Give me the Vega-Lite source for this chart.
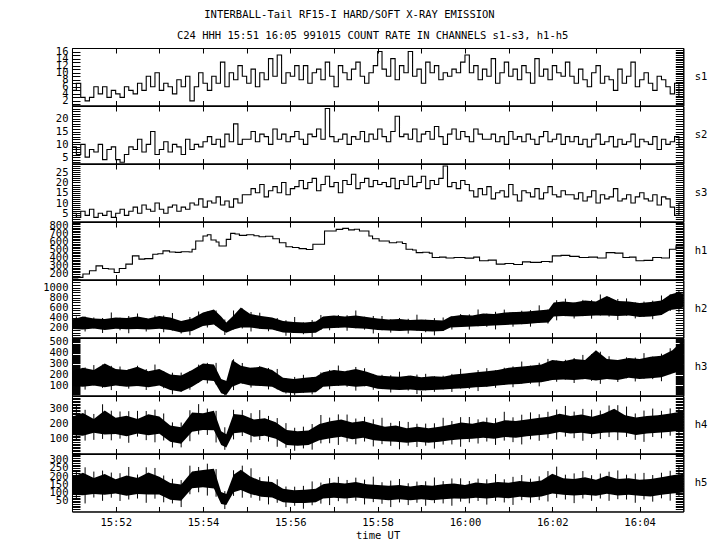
{
"$schema":"https://vega.github.io/schema/vega-lite/v6.json",
"background":"white",
"padding":{"left":41,"top":10,"right":5,"bottom":5},
"title":{"text":"INTERBALL-Tail RF15-I HARD/SOFT X-RAY EMISSION","anchor":"middle","dx":-25,"offset":10},
"config":{
 "view":{"stroke":"black","strokeWidth":1},
 "title":{"font":"DejaVu Sans Mono","fontSize":10.5,"fontWeight":"normal","color":"black"},
 "axis":{"grid":false,"domainColor":"black","tickColor":"black","labelColor":"black","titleColor":"black","labelFont":"DejaVu Sans Mono","titleFont":"DejaVu Sans Mono","labelFontSize":10.5,"titleFontSize":10.5,"titleFontWeight":"normal","labelOverlap":false,"domainWidth":1,"tickWidth":1},
 "axisBottom":{"tickSize":-5,"labelPadding":11,"titlePadding":3},
 "axisTop":{"tickSize":-5,"labels":false},
 "axisLeft":{"tickSize":-8,"labelPadding":12,"minExtent":30,"maxExtent":30},
 "axisRight":{"tickSize":-8,"labels":false,"titleAngle":0,"titleAlign":"left","titleBaseline":"middle","titlePadding":11,"minExtent":0,"maxExtent":0}
},
"datasets":{
"s":[
{"t":0,"a":5,"b":9,"c":5},{"t":6,"a":7,"b":6,"c":3},{"t":12,"a":3,"b":10,"c":6},{"t":18,"a":2,"b":5,"c":4},{"t":24,"a":3,"b":8,"c":7},{"t":30,"a":6,"b":7,"c":3},{"t":36,"a":4,"b":10,"c":5},{"t":42,"a":6,"b":4,"c":4},{"t":48,"a":3,"b":8,"c":6},{"t":54,"a":5,"b":9,"c":3},
{"t":60,"a":4,"b":4,"c":5},{"t":66,"a":3,"b":3,"c":7},{"t":72,"a":6,"b":6,"c":4},{"t":78,"a":5,"b":9,"c":6},{"t":84,"a":4,"b":8,"c":8},{"t":90,"a":7,"b":12,"c":5},{"t":96,"a":5,"b":7,"c":9},{"t":102,"a":9,"b":10,"c":7},{"t":108,"a":6,"b":15,"c":6},{"t":114,"a":10,"b":6,"c":10},
{"t":120,"a":5,"b":8,"c":7},{"t":126,"a":7,"b":11,"c":5},{"t":132,"a":6,"b":7,"c":8},{"t":138,"a":4,"b":10,"c":9},{"t":144,"a":8,"b":9,"c":6},{"t":150,"a":6,"b":6,"c":8},{"t":156,"a":9,"b":12,"c":7},{"t":162,"a":2,"b":8,"c":10},{"t":168,"a":6,"b":10,"c":9},{"t":174,"a":10,"b":9,"c":12},
{"t":180,"a":7,"b":11,"c":8},{"t":186,"a":5,"b":13,"c":11},{"t":192,"a":9,"b":10,"c":10},{"t":198,"a":7,"b":12,"c":13},{"t":204,"a":13,"b":9,"c":9},{"t":210,"a":6,"b":14,"c":11},{"t":216,"a":10,"b":11,"c":8},{"t":222,"a":8,"b":18,"c":12},{"t":228,"a":12,"b":10,"c":10},{"t":234,"a":9,"b":12,"c":14},
{"t":240,"a":7,"b":12,"c":14},{"t":246,"a":11,"b":15,"c":17},{"t":252,"a":6,"b":11,"c":15},{"t":258,"a":10,"b":14,"c":19},{"t":264,"a":8,"b":13,"c":13},{"t":270,"a":14,"b":10,"c":16},{"t":276,"a":9,"b":16,"c":18},{"t":282,"a":15,"b":12,"c":15},{"t":288,"a":7,"b":14,"c":20},{"t":294,"a":10,"b":11,"c":14},
{"t":300,"a":9,"b":13,"c":17},{"t":306,"a":12,"b":15,"c":18},{"t":312,"a":8,"b":12,"c":21},{"t":318,"a":12,"b":10,"c":17},{"t":324,"a":7,"b":14,"c":20},{"t":330,"a":10,"b":13,"c":22},{"t":336,"a":11,"b":16,"c":16},{"t":342,"a":8,"b":12,"c":19},{"t":348,"a":13,"b":24,"c":23},{"t":354,"a":9,"b":13,"c":18},
{"t":360,"a":6,"b":11,"c":20},{"t":366,"a":12,"b":12,"c":15},{"t":372,"a":10,"b":14,"c":21},{"t":378,"a":8,"b":10,"c":19},{"t":384,"a":11,"b":13,"c":24},{"t":390,"a":13,"b":12,"c":17},{"t":396,"a":9,"b":15,"c":20},{"t":402,"a":7,"b":11,"c":22},{"t":408,"a":10,"b":14,"c":18},{"t":414,"a":12,"b":12,"c":21},
{"t":420,"a":16,"b":16,"c":19},{"t":426,"a":11,"b":13,"c":20},{"t":432,"a":9,"b":11,"c":18},{"t":438,"a":14,"b":15,"c":22},{"t":444,"a":8,"b":21,"c":17},{"t":450,"a":12,"b":13,"c":21},{"t":456,"a":10,"b":14,"c":19},{"t":462,"a":16,"b":12,"c":23},{"t":468,"a":9,"b":16,"c":18},{"t":474,"a":11,"b":11,"c":20},
{"t":480,"a":7,"b":14,"c":23},{"t":486,"a":13,"b":15,"c":17},{"t":492,"a":10,"b":12,"c":21},{"t":498,"a":12,"b":17,"c":19},{"t":504,"a":8,"b":13,"c":22},{"t":510,"a":10,"b":10,"c":28},{"t":516,"a":9,"b":14,"c":18},{"t":522,"a":11,"b":16,"c":20},{"t":528,"a":10,"b":12,"c":17},{"t":534,"a":13,"b":15,"c":21},
{"t":540,"a":15,"b":13,"c":19},{"t":546,"a":10,"b":11,"c":16},{"t":552,"a":12,"b":16,"c":13},{"t":558,"a":8,"b":14,"c":17},{"t":564,"a":11,"b":12,"c":14},{"t":570,"a":9,"b":12,"c":18},{"t":576,"a":14,"b":14,"c":12},{"t":582,"a":7,"b":11,"c":15},{"t":588,"a":10,"b":13,"c":16},{"t":594,"a":13,"b":10,"c":13},
{"t":600,"a":9,"b":15,"c":19},{"t":606,"a":11,"b":12,"c":14},{"t":612,"a":8,"b":13,"c":11},{"t":618,"a":12,"b":11,"c":16},{"t":624,"a":10,"b":14,"c":15},{"t":630,"a":7,"b":12,"c":13},{"t":636,"a":14,"b":10,"c":17},{"t":642,"a":9,"b":13,"c":12},{"t":648,"a":11,"b":15,"c":15},{"t":654,"a":8,"b":11,"c":18},
{"t":660,"a":12,"b":12,"c":14},{"t":666,"a":10,"b":14,"c":13},{"t":672,"a":9,"b":10,"c":16},{"t":678,"a":13,"b":13,"c":14},{"t":684,"a":9,"b":11,"c":14},{"t":690,"a":7,"b":13,"c":12},{"t":696,"a":11,"b":10,"c":15},{"t":702,"a":8,"b":12,"c":11},{"t":708,"a":6,"b":9,"c":13},{"t":714,"a":10,"b":12,"c":16},
{"t":720,"a":12,"b":14,"c":10},{"t":726,"a":7,"b":10,"c":14},{"t":732,"a":9,"b":11,"c":12},{"t":738,"a":8,"b":13,"c":13},{"t":744,"a":5,"b":9,"c":17},{"t":750,"a":11,"b":12,"c":11},{"t":756,"a":7,"b":10,"c":12},{"t":762,"a":9,"b":11,"c":14},{"t":768,"a":13,"b":14,"c":10},{"t":774,"a":6,"b":9,"c":13},
{"t":780,"a":8,"b":12,"c":15},{"t":786,"a":10,"b":11,"c":12},{"t":792,"a":7,"b":10,"c":11},{"t":798,"a":5,"b":13,"c":14},{"t":804,"a":9,"b":8,"c":9},{"t":810,"a":8,"b":12,"c":13},{"t":816,"a":6,"b":10,"c":12},{"t":822,"a":4,"b":11,"c":8},{"t":828,"a":7,"b":13,"c":4},{"t":834,"a":3,"b":9,"c":10},
{"t":840,"a":3,"b":9,"c":10}
],
"h1":[
{"t":0,"v":150},{"t":8,"v":156},{"t":15,"v":198},{"t":24,"v":239},{"t":33,"v":301},{"t":42,"v":268},{"t":50,"v":262},{"t":58,"v":218},{"t":65,"v":268},{"t":74,"v":323},{"t":83,"v":426},{"t":92,"v":385},{"t":100,"v":392},{"t":111,"v":447},{"t":118,"v":452},{"t":125,"v":488},{"t":134,"v":475},{"t":142,"v":470},{"t":150,"v":478},{"t":161,"v":475},{"t":165,"v":509},{"t":170,"v":612},{"t":180,"v":675},{"t":186,"v":690},{"t":191,"v":625},{"t":198,"v":600},{"t":202,"v":550},{"t":212,"v":633},{"t":218,"v":708},{"t":224,"v":700},{"t":230,"v":683},{"t":240,"v":690},{"t":250,"v":678},{"t":257,"v":666},{"t":266,"v":672},{"t":276,"v":641},{"t":285,"v":591},{"t":294,"v":541},{"t":303,"v":530},{"t":312,"v":516},{"t":322,"v":505},{"t":331,"v":571},{"t":347,"v":737},{"t":363,"v":758},{"t":372,"v":770},{"t":380,"v":752},{"t":388,"v":760},{"t":395,"v":737},{"t":408,"v":675},{"t":413,"v":641},{"t":422,"v":612},{"t":436,"v":591},{"t":446,"v":600},{"t":454,"v":580},{"t":459,"v":509},{"t":468,"v":500},{"t":473,"v":467},{"t":482,"v":472},{"t":491,"v":460},{"t":495,"v":405},{"t":505,"v":410},{"t":514,"v":400},{"t":525,"v":405},{"t":540,"v":398},{"t":552,"v":410},{"t":560,"v":364},{"t":572,"v":372},{"t":583,"v":323},{"t":595,"v":330},{"t":607,"v":318},{"t":619,"v":351},{"t":630,"v":345},{"t":645,"v":356},{"t":656,"v":351},{"t":660,"v":426},{"t":672,"v":432},{"t":684,"v":420},{"t":697,"v":405},{"t":710,"v":410},{"t":722,"v":400},{"t":734,"v":467},{"t":746,"v":460},{"t":757,"v":405},{"t":766,"v":410},{"t":775,"v":364},{"t":786,"v":370},{"t":798,"v":405},{"t":810,"v":400},{"t":821,"v":509},{"t":830,"v":550},{"t":840,"v":550}
],
"h2":[
{"t":0,"lo":170,"hi":360},{"t":15,"lo":160,"hi":420},{"t":30,"lo":180,"hi":380},{"t":45,"lo":150,"hi":370},{"t":60,"lo":175,"hi":400},{"t":75,"lo":165,"hi":390},{"t":90,"lo":170,"hi":420},{"t":105,"lo":160,"hi":380},{"t":120,"lo":175,"hi":430},{"t":135,"lo":150,"hi":400},{"t":150,"lo":100,"hi":330},{"t":165,"lo":130,"hi":380},{"t":180,"lo":230,"hi":500},{"t":195,"lo":260,"hi":560},{"t":205,"lo":150,"hi":420},{"t":212,"lo":95,"hi":300},{"t":222,"lo":160,"hi":440},{"t":232,"lo":200,"hi":600},{"t":245,"lo":200,"hi":470},{"t":260,"lo":170,"hi":430},{"t":275,"lo":160,"hi":400},{"t":290,"lo":100,"hi":330},{"t":305,"lo":90,"hi":310},{"t":320,"lo":85,"hi":300},{"t":335,"lo":95,"hi":320},{"t":345,"lo":180,"hi":420},{"t":360,"lo":190,"hi":440},{"t":375,"lo":200,"hi":420},{"t":390,"lo":185,"hi":440},{"t":405,"lo":175,"hi":410},{"t":420,"lo":150,"hi":380},{"t":435,"lo":140,"hi":360},{"t":450,"lo":130,"hi":370},{"t":465,"lo":140,"hi":350},{"t":480,"lo":130,"hi":360},{"t":495,"lo":120,"hi":350},{"t":510,"lo":130,"hi":340},{"t":520,"lo":200,"hi":420},{"t":535,"lo":210,"hi":450},{"t":550,"lo":220,"hi":440},{"t":565,"lo":230,"hi":480},{"t":580,"lo":240,"hi":470},{"t":595,"lo":250,"hi":500},{"t":610,"lo":260,"hi":510},{"t":625,"lo":270,"hi":520},{"t":640,"lo":290,"hi":540},{"t":655,"lo":300,"hi":560},{"t":662,"lo":420,"hi":700},{"t":675,"lo":430,"hi":720},{"t":690,"lo":420,"hi":700},{"t":705,"lo":430,"hi":740},{"t":720,"lo":440,"hi":720},{"t":735,"lo":440,"hi":830},{"t":750,"lo":430,"hi":730},{"t":765,"lo":440,"hi":720},{"t":780,"lo":410,"hi":690},{"t":795,"lo":420,"hi":710},{"t":810,"lo":450,"hi":740},{"t":822,"lo":550,"hi":860},{"t":832,"lo":570,"hi":900},{"t":840,"lo":600,"hi":880}
],
"h3":[
{"t":0,"lo":95,"hi":230},{"t":15,"lo":90,"hi":260},{"t":30,"lo":100,"hi":240},{"t":45,"lo":85,"hi":300},{"t":60,"lo":100,"hi":250},{"t":75,"lo":90,"hi":240},{"t":90,"lo":95,"hi":270},{"t":105,"lo":85,"hi":230},{"t":120,"lo":100,"hi":250},{"t":135,"lo":60,"hi":200},{"t":150,"lo":45,"hi":190},{"t":165,"lo":90,"hi":240},{"t":180,"lo":150,"hi":300},{"t":195,"lo":140,"hi":290},{"t":205,"lo":30,"hi":160},{"t":212,"lo":15,"hi":140},{"t":220,"lo":90,"hi":330},{"t":232,"lo":120,"hi":280},{"t":245,"lo":100,"hi":260},{"t":260,"lo":95,"hi":270},{"t":275,"lo":90,"hi":240},{"t":290,"lo":40,"hi":170},{"t":305,"lo":30,"hi":160},{"t":320,"lo":35,"hi":170},{"t":335,"lo":40,"hi":180},{"t":345,"lo":90,"hi":220},{"t":360,"lo":95,"hi":240},{"t":375,"lo":100,"hi":230},{"t":390,"lo":90,"hi":250},{"t":405,"lo":95,"hi":225},{"t":420,"lo":70,"hi":190},{"t":435,"lo":65,"hi":185},{"t":450,"lo":60,"hi":180},{"t":465,"lo":65,"hi":190},{"t":480,"lo":55,"hi":175},{"t":495,"lo":60,"hi":185},{"t":510,"lo":65,"hi":180},{"t":525,"lo":70,"hi":200},{"t":540,"lo":75,"hi":210},{"t":555,"lo":85,"hi":220},{"t":570,"lo":90,"hi":230},{"t":585,"lo":100,"hi":240},{"t":600,"lo":110,"hi":260},{"t":615,"lo":115,"hi":270},{"t":630,"lo":125,"hi":280},{"t":645,"lo":130,"hi":290},{"t":660,"lo":150,"hi":330},{"t":675,"lo":155,"hi":320},{"t":690,"lo":150,"hi":340},{"t":705,"lo":160,"hi":330},{"t":720,"lo":145,"hi":420},{"t":735,"lo":160,"hi":340},{"t":750,"lo":150,"hi":330},{"t":765,"lo":170,"hi":350},{"t":780,"lo":160,"hi":340},{"t":795,"lo":165,"hi":360},{"t":810,"lo":175,"hi":370},{"t":825,"lo":210,"hi":420},{"t":835,"lo":230,"hi":480},{"t":840,"lo":250,"hi":500}
],
"h4":[
{"t":0,"lo":126,"hi":244},{"t":15,"lo":121,"hi":269},{"t":30,"lo":140,"hi":230},{"t":45,"lo":129,"hi":286},{"t":60,"lo":132,"hi":238},{"t":75,"lo":118,"hi":252},{"t":90,"lo":135,"hi":230},{"t":105,"lo":124,"hi":261},{"t":120,"lo":134,"hi":246},{"t":135,"lo":82,"hi":188},{"t":150,"lo":68,"hi":177},{"t":165,"lo":147,"hi":273},{"t":180,"lo":158,"hi":267},{"t":195,"lo":157,"hi":283},{"t":205,"lo":60,"hi":150},{"t":212,"lo":44,"hi":131},{"t":222,"lo":137,"hi":263},{"t":235,"lo":144,"hi":256},{"t":250,"lo":114,"hi":226},{"t":265,"lo":120,"hi":235},{"t":280,"lo":102,"hi":208},{"t":295,"lo":61,"hi":159},{"t":310,"lo":55,"hi":150},{"t":325,"lo":60,"hi":155},{"t":340,"lo":92,"hi":198},{"t":355,"lo":104,"hi":216},{"t":370,"lo":114,"hi":226},{"t":385,"lo":98,"hi":207},{"t":400,"lo":108,"hi":217},{"t":415,"lo":92,"hi":198},{"t":430,"lo":85,"hi":180},{"t":445,"lo":82,"hi":188},{"t":460,"lo":75,"hi":170},{"t":475,"lo":81,"hi":179},{"t":490,"lo":75,"hi":170},{"t":505,"lo":81,"hi":179},{"t":520,"lo":92,"hi":193},{"t":535,"lo":98,"hi":207},{"t":550,"lo":101,"hi":199},{"t":565,"lo":107,"hi":213},{"t":580,"lo":102,"hi":203},{"t":595,"lo":113,"hi":222},{"t":610,"lo":108,"hi":217},{"t":625,"lo":118,"hi":227},{"t":640,"lo":124,"hi":236},{"t":655,"lo":130,"hi":245},{"t":670,"lo":146,"hi":264},{"t":685,"lo":135,"hi":250},{"t":700,"lo":141,"hi":259},{"t":715,"lo":130,"hi":245},{"t":730,"lo":141,"hi":264},{"t":745,"lo":143,"hi":297},{"t":760,"lo":140,"hi":255},{"t":775,"lo":125,"hi":240},{"t":790,"lo":135,"hi":250},{"t":805,"lo":140,"hi":255},{"t":820,"lo":146,"hi":264},{"t":832,"lo":151,"hi":274},{"t":840,"lo":157,"hi":283}
],
"h5":[
{"t":0,"lo":87,"hi":193},{"t":15,"lo":84,"hi":221},{"t":30,"lo":91,"hi":189},{"t":45,"lo":87,"hi":213},{"t":60,"lo":94,"hi":181},{"t":75,"lo":81,"hi":204},{"t":90,"lo":91,"hi":189},{"t":105,"lo":88,"hi":222},{"t":120,"lo":88,"hi":197},{"t":135,"lo":57,"hi":158},{"t":150,"lo":51,"hi":149},{"t":165,"lo":127,"hi":228},{"t":180,"lo":132,"hi":238},{"t":195,"lo":125,"hi":245},{"t":205,"lo":31,"hi":104},{"t":212,"lo":24,"hi":91},{"t":222,"lo":102,"hi":208},{"t":232,"lo":116,"hi":239},{"t":245,"lo":92,"hi":198},{"t":260,"lo":75,"hi":170},{"t":275,"lo":70,"hi":165},{"t":290,"lo":42,"hi":123},{"t":305,"lo":36,"hi":114},{"t":320,"lo":37,"hi":118},{"t":335,"lo":42,"hi":123},{"t":345,"lo":64,"hi":151},{"t":360,"lo":69,"hi":161},{"t":375,"lo":64,"hi":156},{"t":390,"lo":70,"hi":165},{"t":405,"lo":64,"hi":151},{"t":420,"lo":59,"hi":146},{"t":435,"lo":54,"hi":141},{"t":450,"lo":59,"hi":146},{"t":465,"lo":53,"hi":137},{"t":480,"lo":59,"hi":146},{"t":495,"lo":54,"hi":141},{"t":510,"lo":59,"hi":151},{"t":525,"lo":64,"hi":156},{"t":540,"lo":63,"hi":147},{"t":555,"lo":69,"hi":161},{"t":570,"lo":64,"hi":156},{"t":585,"lo":70,"hi":165},{"t":600,"lo":65,"hi":160},{"t":615,"lo":75,"hi":170},{"t":630,"lo":70,"hi":165},{"t":645,"lo":76,"hi":174},{"t":660,"lo":95,"hi":215},{"t":675,"lo":87,"hi":188},{"t":690,"lo":82,"hi":183},{"t":705,"lo":87,"hi":193},{"t":720,"lo":81,"hi":179},{"t":735,"lo":93,"hi":202},{"t":750,"lo":82,"hi":183},{"t":765,"lo":87,"hi":188},{"t":780,"lo":81,"hi":179},{"t":795,"lo":77,"hi":183},{"t":810,"lo":87,"hi":193},{"t":825,"lo":94,"hi":206},{"t":840,"lo":100,"hi":215}
],
"sp":[
{"t":6,"a":170,"b":420,"c":95,"d":249,"e":96,"f":315,"g":55,"h":229},
{"t":18,"a":120,"b":420,"c":63,"d":264,"e":89,"f":290,"g":34,"h":254},
{"t":30,"a":180,"b":400,"c":100,"d":285,"e":94,"f":263,"g":70,"h":228},
{"t":42,"a":90,"b":390,"c":79,"d":290,"e":100,"f":326,"g":50,"h":234},
{"t":54,"a":175,"b":500,"c":59,"d":278,"e":91,"f":284,"g":69,"h":222},
{"t":66,"a":145,"b":395,"c":95,"d":272,"e":102,"f":279,"g":49,"h":218},
{"t":78,"a":85,"b":430,"c":72,"d":245,"e":75,"f":281,"g":58,"h":256},
{"t":90,"a":170,"b":480,"c":95,"d":279,"e":115,"f":283,"g":64,"h":210},
{"t":102,"a":120,"b":380,"c":60,"d":249,"e":92,"f":282,"g":38,"h":254},
{"t":114,"a":170,"b":440,"c":95,"d":290,"e":78,"f":291,"g":63,"h":250},
{"t":126,"a":105,"b":440,"c":76,"d":230,"e":90,"f":266,"g":41,"h":204},
{"t":138,"a":140,"b":490,"c":21,"d":216,"e":44,"f":208,"g":34,"h":184},
{"t":150,"a":80,"b":330,"c":45,"d":217,"e":45,"f":207,"g":12,"h":176},
{"t":162,"a":45,"b":410,"c":62,"d":230,"e":85,"f":287,"g":90,"h":264},
{"t":174,"a":200,"b":520,"c":125,"d":289,"e":129,"f":327,"g":102,"h":256},
{"t":186,"a":200,"b":520,"c":119,"d":305,"e":126,"f":298,"g":82,"h":276},
{"t":198,"a":230,"b":540,"c":110,"d":305,"e":77,"f":283,"g":75,"h":243},
{"t":210,"a":50,"b":360,"c":11,"d":145,"e":29,"f":176,"g":0,"h":109},
{"t":222,"a":160,"b":540,"c":59,"d":338,"e":97,"f":290,"g":80,"h":236},
{"t":234,"a":180,"b":580,"c":117,"d":304,"e":119,"f":288,"g":69,"h":264},
{"t":246,"a":120,"b":510,"c":82,"d":260,"e":78,"f":268,"g":69,"h":248},
{"t":258,"a":175,"b":495,"c":96,"d":277,"e":93,"f":288,"g":51,"h":194},
{"t":270,"a":125,"b":410,"c":65,"d":259,"e":83,"f":250,"g":28,"h":199},
{"t":282,"a":130,"b":390,"c":65,"d":250,"e":49,"f":236,"g":38,"h":181},
{"t":294,"a":35,"b":345,"c":28,"d":167,"e":43,"f":203,"g":12,"h":137},
{"t":306,"a":90,"b":410,"c":12,"d":178,"e":23,"f":173,"g":20,"h":136},
{"t":318,"a":65,"b":300,"c":35,"d":197,"e":38,"f":180,"g":2,"h":141},
{"t":330,"a":10,"b":350,"c":20,"d":177,"e":30,"f":197,"g":23,"h":168},
{"t":342,"a":150,"b":450,"c":75,"d":219,"e":71,"f":256,"g":33,"h":161},
{"t":354,"a":145,"b":430,"c":66,"d":241,"e":72,"f":239,"g":24,"h":188},
{"t":366,"a":195,"b":450,"c":97,"d":281,"e":61,"f":260,"g":48,"h":196},
{"t":378,"a":135,"b":445,"c":89,"d":234,"e":82,"f":259,"g":34,"h":177},
{"t":390,"a":185,"b":540,"c":54,"d":268,"e":65,"f":233,"g":50,"h":191},
{"t":402,"a":157,"b":415,"c":94,"d":257,"e":83,"f":244,"g":28,"h":179},
{"t":414,"a":80,"b":430,"c":62,"d":205,"e":51,"f":228,"g":42,"h":197},
{"t":426,"a":145,"b":430,"c":68,"d":197,"e":66,"f":238,"g":32,"h":163},
{"t":438,"a":98,"b":362,"c":37,"d":193,"e":55,"f":205,"g":12,"h":173},
{"t":450,"a":130,"b":390,"c":60,"d":225,"e":32,"f":216,"g":40,"h":183},
{"t":462,"a":78,"b":374,"c":55,"d":188,"e":56,"f":211,"g":24,"h":157},
{"t":474,"a":134,"b":456,"c":23,"d":199,"e":47,"f":199,"g":38,"h":167},
{"t":486,"a":106,"b":356,"c":57,"d":206,"e":56,"f":200,"g":20,"h":169},
{"t":498,"a":42,"b":388,"c":43,"d":184,"e":37,"f":202,"g":36,"h":192},
{"t":510,"a":130,"b":400,"c":65,"d":189,"e":63,"f":238,"g":34,"h":170},
{"t":522,"a":160,"b":425,"c":42,"d":205,"e":64,"f":217,"g":20,"h":186},
{"t":534,"a":210,"b":468,"c":73,"d":251,"e":49,"f":242,"g":45,"h":187},
{"t":546,"a":158,"b":462,"c":70,"d":214,"e":79,"f":243,"g":35,"h":171},
{"t":558,"a":225,"b":560,"c":50,"d":240,"e":70,"f":228,"g":49,"h":185},
{"t":570,"a":213,"b":477,"c":90,"d":257,"e":83,"f":239,"g":27,"h":181},
{"t":582,"a":161,"b":514,"c":80,"d":238,"e":61,"f":235,"g":49,"h":213},
{"t":594,"a":249,"b":558,"c":106,"d":261,"e":89,"f":277,"g":40,"h":181},
{"t":606,"a":217,"b":507,"c":85,"d":273,"e":79,"f":241,"g":25,"h":196},
{"t":618,"a":265,"b":535,"c":117,"d":317,"e":64,"f":258,"g":54,"h":207},
{"t":630,"a":217,"b":547,"c":116,"d":280,"e":97,"f":273,"g":38,"h":185},
{"t":642,"a":291,"b":643,"c":93,"d":306,"e":88,"f":261,"g":54,"h":199},
{"t":654,"a":279,"b":558,"c":142,"d":341,"e":105,"f":277,"g":46,"h":231},
{"t":666,"a":343,"b":746,"c":134,"d":326,"e":96,"f":292,"g":68,"h":258},
{"t":678,"a":428,"b":776,"c":154,"d":333,"e":115,"f":315,"g":58,"h":209},
{"t":690,"a":380,"b":700,"c":123,"d":349,"e":105,"f":278,"g":36,"h":217},
{"t":702,"a":428,"b":752,"c":158,"d":377,"e":88,"f":296,"g":64,"h":231},
{"t":714,"a":376,"b":748,"c":142,"d":384,"e":106,"f":291,"g":50,"h":206},
{"t":726,"a":440,"b":860,"c":115,"d":406,"e":99,"f":285,"g":64,"h":216},
{"t":738,"a":418,"b":810,"c":158,"d":365,"e":112,"f":318,"g":50,"h":227},
{"t":750,"a":350,"b":770,"c":132,"d":330,"e":92,"f":320,"g":60,"h":235},
{"t":762,"a":438,"b":782,"c":166,"d":355,"e":113,"f":311,"g":58,"h":209},
{"t":774,"a":382,"b":702,"c":137,"d":353,"e":94,"f":266,"g":38,"h":216},
{"t":786,"a":414,"b":718,"c":162,"d":393,"e":81,"f":285,"g":58,"h":220},
{"t":798,"a":366,"b":736,"c":158,"d":362,"e":113,"f":298,"g":45,"h":207},
{"t":810,"a":450,"b":840,"c":139,"d":388,"e":104,"f":283,"g":65,"h":221},
{"t":822,"a":530,"b":860,"c":203,"d":437,"e":121,"f":299,"g":51,"h":233},
{"t":834,"a":500,"b":930,"c":210,"d":474,"e":106,"f":309,"g":73,"h":266}
]
},
"vconcat":[
{"width":611.3,"height":57.5,
 "title":{"text":"C24 HHH 15:51 16:05 991015  COUNT RATE IN CHANNELS s1-s3, h1-h5","frame":"group","offset":5,"dx":-5},
 "layer":[
 {"data":{"name":"s"},"mark":{"type":"line","interpolate":"step-after","color":"black","strokeWidth":1.1},
  "encoding":{"x":{"field":"t","type":"quantitative","scale":{"domain":[0,840],"nice":false,"zero":false},"axis":{"orient":"bottom","values":[60,120,180,240,300,360,420,480,540,600,660,720,780],"labels":false,"title":null}},
   "y":{"field":"a","type":"quantitative","scale":{"domain":[0.7,17],"nice":false,"zero":false},"axis":{"orient":"left","format":"d","values":[1,1.5,2,2.5,3,3.5,4,4.5,5,5.5,6,6.5,7,7.5,8,8.5,9,9.5,10,10.5,11,11.5,12,12.5,13,13.5,14,14.5,15,15.5,16,16.5],"labelExpr":"datum.value % 2 == 0 ? datum.label : ''","title":null,"encode":{"ticks":{"update":{"x2":{"signal":"datum.value % 2 == 0 ? 8 : 4"}}}}}}}},
 {"data":{"name":"s"},"mark":{"type":"line","opacity":0},
  "encoding":{"x":{"field":"t","type":"quantitative","axis":{"orient":"top","values":[60,120,180,240,300,360,420,480,540,600,660,720,780],"title":null}},
   "y":{"field":"a","type":"quantitative","axis":{"orient":"right","values":[1,1.5,2,2.5,3,3.5,4,4.5,5,5.5,6,6.5,7,7.5,8,8.5,9,9.5,10,10.5,11,11.5,12,12.5,13,13.5,14,14.5,15,15.5,16,16.5],"title":"s1","encode":{"ticks":{"update":{"x2":{"signal":"datum.value % 2 == 0 ? -8 : -4"}}}}}}}}
 ],
 "resolve":{"axis":{"x":"independent","y":"independent"}}},
{"width":611.3,"height":57.5,
 "layer":[
 {"data":{"name":"s"},"mark":{"type":"line","interpolate":"step-after","color":"black","strokeWidth":1.1},
  "encoding":{"x":{"field":"t","type":"quantitative","scale":{"domain":[0,840],"nice":false,"zero":false},"axis":{"orient":"bottom","values":[60,120,180,240,300,360,420,480,540,600,660,720,780],"labels":false,"title":null}},
   "y":{"field":"b","type":"quantitative","scale":{"domain":[2.5,25],"nice":false,"zero":false},"axis":{"orient":"left","values":[3,4,5,6,7,8,9,10,11,12,13,14,15,16,17,18,19,20,21,22,23,24],"labelExpr":"datum.value % 5 == 0 ? datum.label : ''","title":null,"encode":{"ticks":{"update":{"x2":{"signal":"datum.value % 5 == 0 ? 8 : 4"}}}}}}}},
 {"data":{"name":"s"},"mark":{"type":"line","opacity":0},
  "encoding":{"x":{"field":"t","type":"quantitative","axis":{"orient":"top","values":[60,120,180,240,300,360,420,480,540,600,660,720,780],"title":null}},
   "y":{"field":"b","type":"quantitative","axis":{"orient":"right","values":[3,4,5,6,7,8,9,10,11,12,13,14,15,16,17,18,19,20,21,22,23,24],"title":"s2","encode":{"ticks":{"update":{"x2":{"signal":"datum.value % 5 == 0 ? -8 : -4"}}}}}}}}
 ],
 "resolve":{"axis":{"x":"independent","y":"independent"}}},
{"width":611.3,"height":57.5,
 "layer":[
 {"data":{"name":"s"},"mark":{"type":"line","interpolate":"step-after","color":"black","strokeWidth":1.1},
  "encoding":{"x":{"field":"t","type":"quantitative","scale":{"domain":[0,840],"nice":false,"zero":false},"axis":{"orient":"bottom","values":[60,120,180,240,300,360,420,480,540,600,660,720,780],"labels":false,"title":null}},
   "y":{"field":"c","type":"quantitative","scale":{"domain":[1,29],"nice":false,"zero":false},"axis":{"orient":"left","values":[2,3,4,5,6,7,8,9,10,11,12,13,14,15,16,17,18,19,20,21,22,23,24,25,26,27,28],"labelExpr":"datum.value % 5 == 0 ? datum.label : ''","title":null,"encode":{"ticks":{"update":{"x2":{"signal":"datum.value % 5 == 0 ? 8 : 4"}}}}}}}},
 {"data":{"name":"s"},"mark":{"type":"line","opacity":0},
  "encoding":{"x":{"field":"t","type":"quantitative","axis":{"orient":"top","values":[60,120,180,240,300,360,420,480,540,600,660,720,780],"title":null}},
   "y":{"field":"c","type":"quantitative","axis":{"orient":"right","values":[2,3,4,5,6,7,8,9,10,11,12,13,14,15,16,17,18,19,20,21,22,23,24,25,26,27,28],"title":"s3","encode":{"ticks":{"update":{"x2":{"signal":"datum.value % 5 == 0 ? -8 : -4"}}}}}}}}
 ],
 "resolve":{"axis":{"x":"independent","y":"independent"}}},
{"width":611.3,"height":57.5,
 "layer":[
 {"data":{"name":"h1"},"mark":{"type":"line","interpolate":"step-after","color":"black","strokeWidth":1.1},
  "encoding":{"x":{"field":"t","type":"quantitative","scale":{"domain":[0,840],"nice":false,"zero":false},"axis":{"orient":"bottom","values":[60,120,180,240,300,360,420,480,540,600,660,720,780],"labels":false,"title":null}},
   "y":{"field":"v","type":"quantitative","scale":{"domain":[130,850],"nice":false,"zero":false},"axis":{"orient":"left","values":[140,160,180,200,220,240,260,280,300,320,340,360,380,400,420,440,460,480,500,520,540,560,580,600,620,640,660,680,700,720,740,760,780,800,820,840],"labelExpr":"datum.value % 100 == 0 ? datum.label : ''","title":null,"encode":{"ticks":{"update":{"x2":{"signal":"datum.value % 100 == 0 ? 8 : 4"}}}}}}}},
 {"data":{"name":"h1"},"mark":{"type":"line","opacity":0},
  "encoding":{"x":{"field":"t","type":"quantitative","axis":{"orient":"top","values":[60,120,180,240,300,360,420,480,540,600,660,720,780],"title":null}},
   "y":{"field":"v","type":"quantitative","axis":{"orient":"right","values":[140,160,180,200,220,240,260,280,300,320,340,360,380,400,420,440,460,480,500,520,540,560,580,600,620,640,660,680,700,720,740,760,780,800,820,840],"title":"h1","encode":{"ticks":{"update":{"x2":{"signal":"datum.value % 100 == 0 ? -8 : -4"}}}}}}}}
 ],
 "resolve":{"axis":{"x":"independent","y":"independent"}}},
{"width":611.3,"height":57.5,
 "layer":[
 {"data":{"name":"h2"},"mark":{"type":"area","color":"black"},
  "encoding":{"x":{"field":"t","type":"quantitative","scale":{"domain":[0,840],"nice":false,"zero":false},"axis":{"orient":"bottom","values":[60,120,180,240,300,360,420,480,540,600,660,720,780],"labels":false,"title":null}},
   "y":{"field":"hi","type":"quantitative","scale":{"domain":[0,1150],"nice":false,"zero":false},"axis":{"orient":"left","format":"d","values":[50,100,150,200,250,300,350,400,450,500,550,600,650,700,750,800,850,900,950,1000,1050,1100],"labelExpr":"datum.value % 200 == 0 ? datum.label : ''","title":null,"encode":{"ticks":{"update":{"x2":{"signal":"datum.value % 200 == 0 ? 8 : 4"}}}}}},"y2":{"field":"lo"}}},
 {"data":{"name":"sp"},"mark":{"type":"rule","color":"black","strokeWidth":1},
  "encoding":{"x":{"field":"t","type":"quantitative","axis":null},"y":{"field":"a","type":"quantitative","axis":null},"y2":{"field":"b"}}},
 {"data":{"name":"h2"},"mark":{"type":"line","opacity":0},
  "encoding":{"x":{"field":"t","type":"quantitative","axis":{"orient":"top","values":[60,120,180,240,300,360,420,480,540,600,660,720,780],"title":null}},
   "y":{"field":"hi","type":"quantitative","axis":{"orient":"right","values":[50,100,150,200,250,300,350,400,450,500,550,600,650,700,750,800,850,900,950,1000,1050,1100],"title":"h2","encode":{"ticks":{"update":{"x2":{"signal":"datum.value % 200 == 0 ? -8 : -4"}}}}}}}}
 ],
 "resolve":{"axis":{"x":"independent","y":"independent"}}},
{"width":611.3,"height":57.5,
 "layer":[
 {"data":{"name":"h3"},"mark":{"type":"area","color":"black"},
  "encoding":{"x":{"field":"t","type":"quantitative","scale":{"domain":[0,840],"nice":false,"zero":false},"axis":{"orient":"bottom","values":[60,120,180,240,300,360,420,480,540,600,660,720,780],"labels":false,"title":null}},
   "y":{"field":"hi","type":"quantitative","scale":{"domain":[10,530],"nice":false,"zero":false},"axis":{"orient":"left","values":[20,30,40,50,60,70,80,90,100,110,120,130,140,150,160,170,180,190,200,210,220,230,240,250,260,270,280,290,300,310,320,330,340,350,360,370,380,390,400,410,420,430,440,450,460,470,480,490,500,510,520],"labelExpr":"datum.value % 100 == 0 ? datum.label : ''","title":null,"encode":{"ticks":{"update":{"x2":{"signal":"datum.value % 100 == 0 ? 8 : 4"}}}}}},"y2":{"field":"lo"}}},
 {"data":{"name":"sp"},"mark":{"type":"rule","color":"black","strokeWidth":1},
  "encoding":{"x":{"field":"t","type":"quantitative","axis":null},"y":{"field":"c","type":"quantitative","axis":null},"y2":{"field":"d"}}},
 {"data":{"name":"h3"},"mark":{"type":"line","opacity":0},
  "encoding":{"x":{"field":"t","type":"quantitative","axis":{"orient":"top","values":[60,120,180,240,300,360,420,480,540,600,660,720,780],"title":null}},
   "y":{"field":"hi","type":"quantitative","axis":{"orient":"right","values":[20,30,40,50,60,70,80,90,100,110,120,130,140,150,160,170,180,190,200,210,220,230,240,250,260,270,280,290,300,310,320,330,340,350,360,370,380,390,400,410,420,430,440,450,460,470,480,490,500,510,520],"title":"h3","encode":{"ticks":{"update":{"x2":{"signal":"datum.value % 100 == 0 ? -8 : -4"}}}}}}}}
 ],
 "resolve":{"axis":{"x":"independent","y":"independent"}}},
{"width":611.3,"height":57.5,
 "layer":[
 {"data":{"name":"h4"},"mark":{"type":"area","color":"black"},
  "encoding":{"x":{"field":"t","type":"quantitative","scale":{"domain":[0,840],"nice":false,"zero":false},"axis":{"orient":"bottom","values":[60,120,180,240,300,360,420,480,540,600,660,720,780],"labels":false,"title":null}},
   "y":{"field":"hi","type":"quantitative","scale":{"domain":[5,380],"nice":false,"zero":false},"axis":{"orient":"left","values":[10,20,30,40,50,60,70,80,90,100,110,120,130,140,150,160,170,180,190,200,210,220,230,240,250,260,270,280,290,300,310,320,330,340,350,360,370],"labelExpr":"datum.value % 100 == 0 ? datum.label : ''","title":null,"encode":{"ticks":{"update":{"x2":{"signal":"datum.value % 100 == 0 ? 8 : 4"}}}}}},"y2":{"field":"lo"}}},
 {"data":{"name":"sp"},"mark":{"type":"rule","color":"black","strokeWidth":1},
  "encoding":{"x":{"field":"t","type":"quantitative","axis":null},"y":{"field":"e","type":"quantitative","axis":null},"y2":{"field":"f"}}},
 {"data":{"name":"h4"},"mark":{"type":"line","opacity":0},
  "encoding":{"x":{"field":"t","type":"quantitative","axis":{"orient":"top","values":[60,120,180,240,300,360,420,480,540,600,660,720,780],"title":null}},
   "y":{"field":"hi","type":"quantitative","axis":{"orient":"right","values":[10,20,30,40,50,60,70,80,90,100,110,120,130,140,150,160,170,180,190,200,210,220,230,240,250,260,270,280,290,300,310,320,330,340,350,360,370],"title":"h4","encode":{"ticks":{"update":{"x2":{"signal":"datum.value % 100 == 0 ? -8 : -4"}}}}}}}}
 ],
 "resolve":{"axis":{"x":"independent","y":"independent"}}},
{"width":611.3,"height":57.5,
 "layer":[
 {"data":{"name":"h5"},"mark":{"type":"area","color":"black"},
  "encoding":{"x":{"field":"t","type":"quantitative","scale":{"domain":[0,840],"nice":false,"zero":false},"axis":{"orient":"bottom","values":[60,120,180,240,300,360,420,480,540,600,660,720,780],"labelExpr":"datum.value % 120 == 60 ? (datum.value < 540 ? '15:' + (51 + datum.value / 60) : '16:0' + (datum.value / 60 - 9)) : ''","title":"time UT"}},
   "y":{"field":"hi","type":"quantitative","scale":{"domain":[-15,335],"nice":false,"zero":false},"axis":{"orient":"left","values":[0,10,20,30,40,50,60,70,80,90,100,110,120,130,140,150,160,170,180,190,200,210,220,230,240,250,260,270,280,290,300,310,320,330],"labelExpr":"datum.value % 50 == 0 && datum.value > 0 ? datum.label : ''","title":null,"encode":{"ticks":{"update":{"x2":{"signal":"datum.value % 50 == 0 ? 8 : 4"}}}}}},"y2":{"field":"lo"}}},
 {"data":{"name":"sp"},"mark":{"type":"rule","color":"black","strokeWidth":1},
  "encoding":{"x":{"field":"t","type":"quantitative","axis":null},"y":{"field":"g","type":"quantitative","axis":null},"y2":{"field":"h"}}},
 {"data":{"name":"h5"},"mark":{"type":"line","opacity":0},
  "encoding":{"x":{"field":"t","type":"quantitative","axis":{"orient":"top","values":[60,120,180,240,300,360,420,480,540,600,660,720,780],"title":null}},
   "y":{"field":"hi","type":"quantitative","axis":{"orient":"right","values":[0,10,20,30,40,50,60,70,80,90,100,110,120,130,140,150,160,170,180,190,200,210,220,230,240,250,260,270,280,290,300,310,320,330],"title":"h5","encode":{"ticks":{"update":{"x2":{"signal":"datum.value % 50 == 0 ? -8 : -4"}}}}}}}}
 ],
 "resolve":{"axis":{"x":"independent","y":"independent"}}}
],
"spacing":0,
"bounds":"flush"
}
